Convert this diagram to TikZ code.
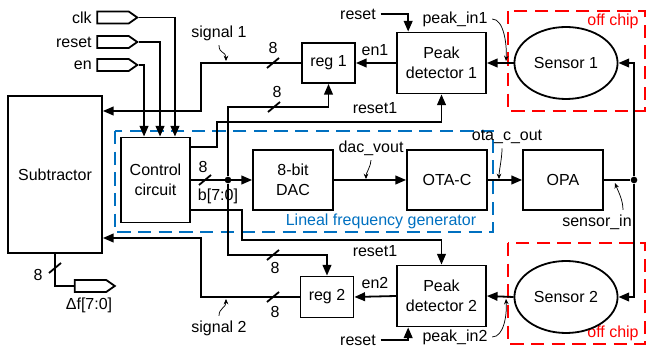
\documentclass[tikz,border=0pt]{standalone}
\usepackage{fontspec}
\setmainfont{Liberation Sans}
\usetikzlibrary{shapes.geometric, shapes.symbols, arrows.meta, positioning, calc}
\definecolor{chipBlue}{HTML}{0070C0}
\definecolor{chipRed}{HTML}{FF0000}
\tikzset{
  blk/.style={draw, line width=1.35pt, fill=white, align=center, inner sep=1pt},
  sensor/.style={draw, ellipse, line width=1.35pt, fill=white, minimum width=71pt, minimum height=54pt},
  port/.style={draw, line width=1.35pt, shape=signal, signal to=east, signal pointer angle=70,
               minimum width=30pt, minimum height=9pt, inner sep=0pt},
  wire/.style={line width=1.35pt},
  arrow/.style={wire, -{Triangle[length=8pt, width=6.5pt]}},
  note/.style={line width=0.55pt, -{Stealth[length=4pt, width=3.5pt]}},
  region/.style={line width=2.1pt, dash pattern=on 10pt off 5.5pt},
  dot/.style={circle, fill, inner sep=0pt, minimum size=5pt},
}

\begin{document}
\begin{tikzpicture}[x=0.75pt, y=-0.75pt, font=\fontsize{12}{15}\selectfont]
\useasboundingbox (0,0) rectangle (646,348);
% chip regions
\draw[region, chipBlue] (115,131) rectangle (493,232);
\draw[region, chipRed] (508,11) rectangle (645,111);
\draw[region, chipRed] (508,243) rectangle (645,344);
\node[text=chipBlue] (lfg) at (381,221) {Lineal frequency generator};
\node[text=chipRed] (oc1) at (613,21) {off chip};
\node[text=chipRed] (oc2) at (613,333) {off chip};

% blocks
\node[blk, minimum width=70.5pt, minimum height=117.75pt] (sub) at (55,174.5) {Subtractor};
\node[blk, minimum width=51.75pt, minimum height=63.75pt] (ctrl) at (155.5,180) {Control\\circuit};
\node[blk, minimum width=60pt, minimum height=45pt] (dac) at (293,180) {8-bit\\DAC};
\node[blk, minimum width=60pt, minimum height=45pt] (ota) at (447,180) {OTA-C};
\node[blk, minimum width=60pt, minimum height=45pt] (opa) at (563,180) {OPA};
\node[blk, minimum width=39.75pt, minimum height=30pt] (reg1) at (328.5,63) {reg 1};
\node[blk, minimum width=39.75pt, minimum height=30.75pt] (reg2) at (327,297) {reg 2};
\node[blk, minimum width=66.75pt, minimum height=45.75pt] (pd1) at (441.5,63) {Peak\\detector 1};
\node[blk, minimum width=66.75pt, minimum height=45.75pt] (pd2) at (441.5,296) {Peak\\detector 2};
\node[sensor] (sen1) at (566,63) {Sensor 1};
\node[sensor] (sen2) at (566,297) {Sensor 2};

% ports
\node[port] (clk) at (113,17.5) {};
\node[port] (rst) at (113,42) {};
\node[port] (en) at (113,65) {};
\node[port] (df) at (90.5,286) {};
\node[left] (clklbl) at (clk.west) {clk};
\node[left] (rstlbl) at (rst.west) {reset};
\node[left] (enlbl) at (en.west) {en};
\node (dflbl) at (89,305) {Δf[7:0]};

% junctions
\node[dot] (jb) at (228,180) {};
\node[dot] (js) at (634,180) {};
\coordinate (s1) at (201,111);
\coordinate (s2) at (201,238);
\coordinate (b1) at (228,107);
\coordinate (b2) at (228,255);
\coordinate (r1a) at (217,122);
\coordinate (r1b) at (242,240);

% control inputs
\draw[arrow] (clk.east) -| ([xshift=14.6pt]ctrl.north);
\draw[arrow] (rst.east) -| ([xshift=3.4pt]ctrl.north);
\draw[arrow] (en.east) -| ([xshift=-8.6pt]ctrl.north);

% data path
\draw[arrow] (ctrl.east) -- (dac.west);
\draw[arrow] (dac.east) -- (ota.west);
\draw[arrow] (ota.east) -- (opa.west);
\draw[wire] (opa.east) -- (js);
\draw[arrow] (js) |- (sen1.east);
\draw[arrow] (js) |- (sen2.east);
\draw[arrow] (jb) -- (b1) -| (reg1.south);
\draw[arrow] (jb) -- (b2) -| (reg2.north);
\draw[arrow] ([yshift=24.75pt]ctrl.east) -| (r1a) -| (pd1.south);
\draw[arrow] ([yshift=-22.5pt]ctrl.east) -| (r1b) -| (pd2.north);

% peak detectors
\draw[arrow] (sen1.west) -- (pd1.east);
\draw[arrow] (sen2.west) -- (pd2.east);
\draw[arrow] (pd1.west) -- (reg1.east);
\draw[arrow] (pd2.west) -- (reg2.east);
\node (en1lbl) at (375,50) {en1};
\node (en2lbl) at (375,283) {en2};
\node (rs1a) at (375,108) {reset1};
\node (rs1b) at (375,251) {reset1};
\node (rsttop) at (358,14) {reset};
\node (rstbot) at (358,340) {reset};
\draw[arrow] (rsttop.east) -| ([xshift=-25pt]pd1.north);
\draw[arrow] (rstbot.east) -| ([xshift=-25pt]pd2.south);

% back to subtractor
\draw[arrow] (reg1.west) -| (s1) -- (s1 -| sub.east);
\draw[arrow] (reg2.west) -| (s2) -- (s2 -| sub.east);
\draw[wire] (sub.south) |- (df.west);

% bus widths
\foreach \x/\y in {273/63, 274/107, 205/180, 273/255, 273/297, 55/268}{
  \draw[wire] (\x-6,\y+5) -- (\x+6,\y-5);
}
\foreach \x/\y [count=\i] in {273/48, 277/92, 203/167, 275/268, 275/312, 38/275}{
  \node (bw\i) at (\x,\y) {8};
}
\node (bus) at (218,196) {b[7:0]};

% signal names
\node (sig1) at (219,33) {signal 1};
\node (sig2) at (219,328) {signal 2};
\node (dacv) at (371,148) {dac\_vout};
\node (otac) at (507,137) {ota\_c\_out};
\node (senin) at (597,222) {sensor\_in};
\node (pk1) at (455,19) {peak\_in1};
\node (pk2) at (455,337) {peak\_in2};
\draw[note] (sig1.south) .. controls +(0,9) and +(0,-10) .. (226,61);
\draw[note] (sig2.north) .. controls +(0,-8) and +(0,9) .. (226,299);
\draw[note] (dacv.south) .. controls +(0,6) and +(0,-6) .. (366,179);
\draw[note] ([xshift=-3.75pt]otac.south) .. controls +(0,10) and +(0,-8) .. (499,179);
\draw[note] ([xshift=19.5pt]senin.north) .. controls +(0,-10) and +(3,8) .. (615,183);
\draw[note] (pk1.east) .. controls +(12,0) and +(1,-15) .. (506,61);
\draw[note] (pk2.east) .. controls +(12,0) and +(1,15) .. (506,299);
\end{tikzpicture}
\end{document}
